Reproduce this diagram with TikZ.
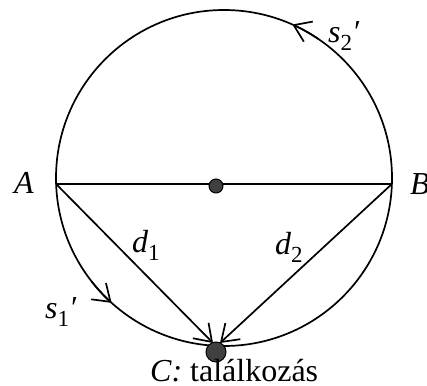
\documentclass[tikz,border=0pt]{standalone}
\usepackage{fontspec}
\setmainfont{Liberation Serif}
\usetikzlibrary{arrows.meta}
\newcommand{\lsub}[1]{\raisebox{-0.25em}{\upshape\fontsize{23}{24}\selectfont #1}}
\begin{document}
\begin{tikzpicture}[x=1pt,y=1pt,
  line/.style={line width=1.7pt},
  barb/.style={line width=1.7pt,-{Straight Barb[length=16pt 0,width=22pt 0,line width=1.7pt]}},
  dot/.style={circle,draw=black,line width=1pt,fill=black!75,inner sep=0pt},
  lbl/.style={inner sep=0pt,font=\fontsize{32}{36}\selectfont}]
\useasboundingbox (0,0) rectangle (427,385);
\coordinate (O) at (224,207);
\coordinate (A) at (56.1,201);
\coordinate (B) at (391.9,201);
\coordinate (c1) at (213,42);
\coordinate (c2) at (220,42);
\draw[line] (O) circle[radius=168];
\draw[line] (A) -- (B);
\draw[barb] (A) -- (c1);
\draw[barb] (B) -- (c2);
\draw[barb] ([shift={(O)}]56:168) arc[start angle=56,end angle=66,radius=168];
\draw[barb] ([shift={(O)}]218:168) arc[start angle=218,end angle=228,radius=168];
\node[dot,minimum size=14pt] (M) at (216,199) {};
\node[dot,minimum size=20pt] (C) at (216,33) {};
\node[lbl] (lA) at (24,202) {\itshape A};
\node[lbl,anchor=west] (lB) at (410,201) {\itshape B};
\node[lbl,anchor=base west] (ls2) at (328,342) {\itshape s\lsub{2}′};
\node[lbl,anchor=base west] (ls1) at (45,67) {\itshape s\lsub{1}′};
\node[lbl,anchor=base west] (ld1) at (132,132) {\itshape d\lsub{1}};
\node[lbl,anchor=base west] (ld2) at (275,130) {\itshape d\lsub{2}};
\node[lbl,anchor=base west] (lC) at (150,4) {\textit{C:} találkozás};
\end{tikzpicture}
\end{document}
